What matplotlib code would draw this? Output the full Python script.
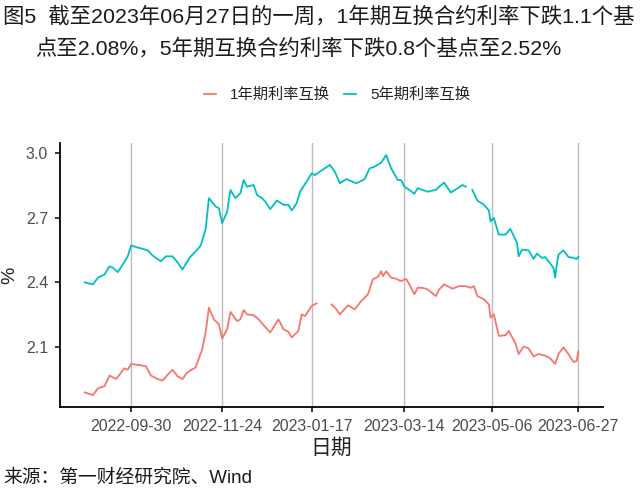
import numpy as np
import pandas as pd
import matplotlib
matplotlib.use("Agg")
import matplotlib.pyplot as plt
import matplotlib.dates as mdates

plt.rcParams["font.family"] = ["Liberation Sans", "Noto Sans CJK SC"]

nan = np.nan

# 1年期利率互换 (%), NaN marks the missing days around the Spring Festival
dates_1y = [
    "2022-09-02", "2022-09-07", "2022-09-10", "2022-09-14", "2022-09-17", "2022-09-21", "2022-09-26", "2022-09-28", "2022-09-30",
    "2022-10-05", "2022-10-09", "2022-10-12", "2022-10-16", "2022-10-19", "2022-10-22", "2022-10-25", "2022-10-28", "2022-10-31",
    "2022-11-03", "2022-11-08", "2022-11-12", "2022-11-14", "2022-11-16", "2022-11-19", "2022-11-22", "2022-11-24", "2022-11-27", "2022-11-29",
    "2022-12-03", "2022-12-05", "2022-12-07", "2022-12-09", "2022-12-13", "2022-12-16", "2022-12-19", "2022-12-23", "2022-12-28", "2022-12-31",
    "2023-01-03", "2023-01-05", "2023-01-09", "2023-01-11", "2023-01-13", "2023-01-17", "2023-01-20", "2023-01-24",
    "2023-01-29", "2023-02-01", "2023-02-03", "2023-02-08", "2023-02-12", "2023-02-16", "2023-02-20", "2023-02-23", "2023-02-26", "2023-02-28",
    "2023-03-01", "2023-03-03", "2023-03-06", "2023-03-09", "2023-03-12", "2023-03-15", "2023-03-17", "2023-03-20", "2023-03-22", "2023-03-25", "2023-03-28",
    "2023-04-02", "2023-04-04", "2023-04-07", "2023-04-12", "2023-04-16", "2023-04-20", "2023-04-23", "2023-04-25", "2023-04-27",
    "2023-05-01", "2023-05-04", "2023-05-05", "2023-05-07", "2023-05-10", "2023-05-14", "2023-05-16", "2023-05-20", "2023-05-22", "2023-05-25", "2023-05-28", "2023-05-31",
    "2023-06-03", "2023-06-07", "2023-06-10", "2023-06-13", "2023-06-15", "2023-06-18", "2023-06-21", "2023-06-24", "2023-06-26", "2023-06-27",
]
rate_1y = [
    1.890, 1.878, 1.909, 1.919, 1.968, 1.952, 2.002, 1.995, 2.022,
    2.017, 2.011, 1.968, 1.952, 1.945, 1.971, 1.995, 1.965, 1.952,
    1.983, 2.006, 2.091, 2.168, 2.283, 2.229, 2.206, 2.140, 2.183, 2.263,
    2.221, 2.229, 2.272, 2.252, 2.248, 2.229, 2.202, 2.168, 2.229, 2.183,
    2.171, 2.145, 2.175, 2.252, 2.244, 2.291, 2.303, nan,
    2.298, 2.275, 2.252, 2.294, 2.275, 2.314, 2.345, 2.414, 2.426, 2.452,
    2.429, 2.452, 2.422, 2.417, 2.406, 2.417, 2.391, 2.345, 2.375, 2.375, 2.368,
    2.337, 2.368, 2.391, 2.371, 2.383, 2.383, 2.375, 2.383, 2.337,
    2.322, 2.298, 2.237, 2.252, 2.152, 2.155, 2.175, 2.118, 2.068, 2.103, 2.094, 2.057,
    2.068, 2.060, 2.048, 2.022, 2.068, 2.099, 2.068, 2.032, 2.035, 2.080,
]

# 5年期利率互换 (%), one missing stretch in late April
dates_5y = [
    "2022-09-02", "2022-09-07", "2022-09-10", "2022-09-14", "2022-09-17", "2022-09-19", "2022-09-22", "2022-09-25", "2022-09-28", "2022-09-30",
    "2022-10-05", "2022-10-10", "2022-10-13", "2022-10-18", "2022-10-21", "2022-10-25", "2022-10-28", "2022-10-31",
    "2022-11-05", "2022-11-09", "2022-11-11", "2022-11-14", "2022-11-16", "2022-11-20", "2022-11-22", "2022-11-24", "2022-11-27", "2022-11-29",
    "2022-12-02", "2022-12-05", "2022-12-07", "2022-12-09", "2022-12-13", "2022-12-15", "2022-12-18", "2022-12-20", "2022-12-23", "2022-12-27", "2022-12-31",
    "2023-01-03", "2023-01-05", "2023-01-08", "2023-01-10", "2023-01-14", "2023-01-17", "2023-01-19", "2023-01-22", "2023-01-28", "2023-01-31",
    "2023-02-03", "2023-02-07", "2023-02-13", "2023-02-18", "2023-02-21", "2023-02-24", "2023-02-28",
    "2023-03-03", "2023-03-06", "2023-03-10", "2023-03-12", "2023-03-14", "2023-03-17", "2023-03-20", "2023-03-22", "2023-03-25", "2023-03-28",
    "2023-04-02", "2023-04-04", "2023-04-07", "2023-04-11", "2023-04-16", "2023-04-18", "2023-04-20", "2023-04-21", "2023-04-24", "2023-04-27",
    "2023-05-01", "2023-05-04", "2023-05-05", "2023-05-07", "2023-05-10", "2023-05-14", "2023-05-17", "2023-05-21", "2023-05-22", "2023-05-24", "2023-05-28", "2023-05-31",
    "2023-06-02", "2023-06-05", "2023-06-07", "2023-06-10", "2023-06-12", "2023-06-13", "2023-06-14", "2023-06-15", "2023-06-18", "2023-06-21", "2023-06-24", "2023-06-26", "2023-06-27",
]
rate_5y = [
    2.400, 2.391, 2.422, 2.437, 2.475, 2.468, 2.448, 2.483, 2.521, 2.571,
    2.560, 2.549, 2.525, 2.498, 2.521, 2.521, 2.494, 2.460,
    2.521, 2.552, 2.571, 2.645, 2.791, 2.752, 2.745, 2.675, 2.729, 2.829,
    2.791, 2.814, 2.875, 2.844, 2.852, 2.806, 2.791, 2.775, 2.740, 2.780, 2.760,
    2.760, 2.734, 2.768, 2.821, 2.868, 2.906, 2.898, 2.914, 2.945, 2.914,
    2.860, 2.879, 2.860, 2.879, 2.929, 2.937, 2.955,
    2.991, 2.929, 2.875, 2.875, 2.844, 2.829, 2.811, 2.837, 2.829, 2.821,
    2.829, 2.844, 2.863, 2.817, 2.841, 2.852, 2.844, nan, 2.829, 2.780,
    2.760, 2.734, 2.683, 2.699, 2.622, 2.622, 2.648, 2.583, 2.521, 2.552, 2.549, 2.509,
    2.534, 2.514, 2.518, 2.488, 2.468, 2.422, 2.483, 2.529, 2.549, 2.518, 2.514, 2.509, 2.520,
]

series_names = ["1年期利率互换", "5年期利率互换"]
series_colors = ["#F8766D", "#00BFC4"]
x_ticks = ["2022-09-30", "2022-11-24", "2023-01-17", "2023-03-14", "2023-05-06", "2023-06-27"]
y_ticks = [2.1, 2.4, 2.7, 3.0]

title_1 = "图5  截至2023年06月27日的一周，1年期互换合约利率下跌1.1个基"
title_2 = "点至2.08%，5年期互换合约利率下跌0.8个基点至2.52%"
source = "来源：第一财经研究院、Wind"

fig = plt.figure(figsize=(6.4, 4.98), dpi=100)
ax = fig.add_axes([60 / 640, 1 - 407 / 498, 543 / 640, 264 / 498])

lines = []
for d, v, name, color in [(dates_1y, rate_1y, series_names[0], series_colors[0]),
                          (dates_5y, rate_5y, series_names[1], series_colors[1])]:
    (ln,) = ax.plot(pd.to_datetime(d), v, color=color, lw=1.3, label=name)
    lines.append(ln)

ax.margins(x=0.05, y=0.05)
ax.set_xticks(pd.to_datetime(x_ticks))
ax.xaxis.set_major_formatter(mdates.DateFormatter("%Y-%m-%d"))
ax.set_yticks(y_ticks)
ax.yaxis.set_major_formatter(matplotlib.ticker.FormatStrFormatter("%.1f"))
ax.grid(axis="x", color="#BDBDBD", lw=1.0)
ax.set_axisbelow(True)

for side in ["top", "right"]:
    ax.spines[side].set_visible(False)
for side in ["left", "bottom"]:
    ax.spines[side].set_linewidth(1.3)
    ax.spines[side].set_color("black")
ax.tick_params(length=3.5, width=1.1, color="black", labelsize=11.5, labelcolor="#4D4D4D", pad=5)

ax.set_xlabel("日期", fontsize=15, color="#222222")
ax.xaxis.set_label_coords(0.5, -(438 - 407) / 264)
ax.set_ylabel("%", fontsize=14, color="#222222")
ax.yaxis.set_label_coords(-(42 / 543), 0.5)

fig.text(3 / 640, 1 - 16 / 498, title_1, fontsize=15.4, color="#1A1A1A", ha="left", va="center")
fig.text(35 / 640, 1 - 48 / 498, title_2, fontsize=15.4, color="#1A1A1A", ha="left", va="center")
fig.text(3 / 640, 1 - 478 / 498, source, fontsize=13.5, color="#1A1A1A", ha="left", va="center")

fig.legend(handles=lines, loc="center", bbox_to_anchor=(337 / 640, 1 - 95 / 498), ncol=2,
           frameon=False, fontsize=11, handlelength=0.8, handletextpad=0.9, columnspacing=0.9,
           labelcolor="#222222")

fig.savefig("out.png", dpi=100)
